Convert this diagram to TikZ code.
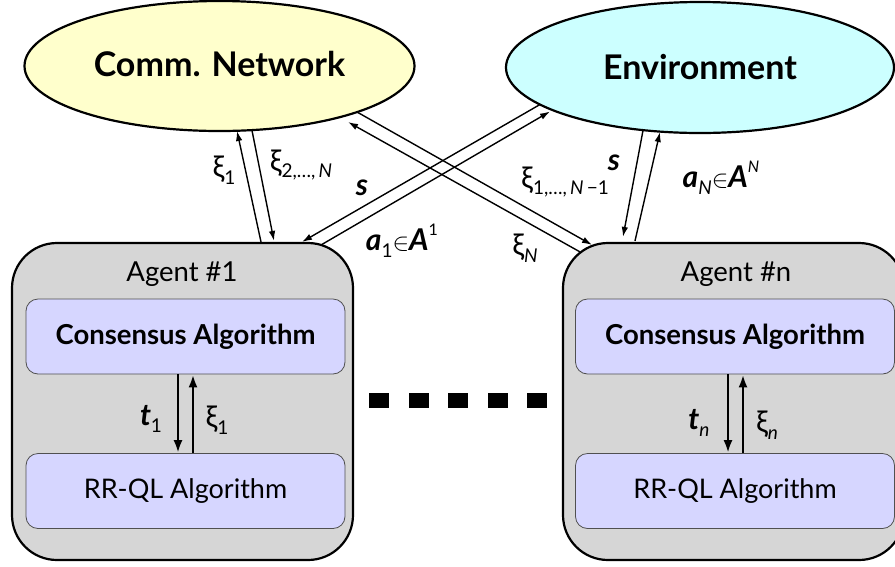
\documentclass[tikz,border=0pt]{standalone}
\usepackage{fontspec}
\setmainfont{Lato}
\usetikzlibrary{shapes.geometric,arrows.meta,calc}

\definecolor{netfill}{HTML}{FFFFCC}
\definecolor{envfill}{HTML}{CCFFFF}
\definecolor{agentfill}{HTML}{D6D6D6}
\definecolor{algfill}{HTML}{D6D6FF}
\definecolor{algline}{HTML}{505050}

% label helpers: lowered subscript, raised superscript
\newcommand\lbsub[1]{\raisebox{-0.45ex}{\fontsize{19}{20}\selectfont #1}}
\newcommand\lbsup[1]{\raisebox{1.0ex}{\fontsize{16}{17}\selectfont #1}}
\newcommand\bit[1]{{\bfseries\itshape #1}}

\begin{document}
\begin{tikzpicture}[x=1pt,y=-1pt,
  blob/.style={ellipse, draw, line width=2.2pt, inner sep=0pt,
    font=\fontsize{34}{36}\selectfont\bfseries},
  agentbox/.style={draw, line width=2.2pt, fill=agentfill,
    rounded corners=45pt, minimum width=341pt, minimum height=317pt},
  algbox/.style={draw=algline, line width=0.8pt, fill=algfill,
    rounded corners=12pt, minimum width=319pt, minimum height=75pt,
    font=\fontsize{27}{30}\selectfont},
  consbox/.style={algbox, font=\fontsize{27.5}{30}\selectfont\bfseries},
  title/.style={font=\fontsize{27.5}{30}\selectfont},
  lbl/.style={font=\fontsize{30}{32}\selectfont, inner sep=0pt},
  link/.style={line width=1.4pt, -{Latex[length=10pt,width=6.5pt]}},
  flow/.style={line width=2.8pt, -{Latex[length=13pt,width=9pt]}}
]
\useasboundingbox (0,0) rectangle (895,566);
\clip (0,0) rectangle (895,566);

% top-level entities
\node[blob, fill=netfill, minimum width=390pt, minimum height=130pt]
  (comm) at (219.5,66) {\raisebox{4pt}{Comm. Network}};
\node[blob, fill=envfill, minimum width=388pt, minimum height=131pt]
  (env) at (700,67.5) {Environment};

% agents
\node[agentbox] (ag1) at (182.5,401.5) {};
\node[agentbox] (agn) at (733.5,401.5) {};
\node[title] (ag1t) at (182,274) {Agent \#1};
\node[title] (agnt) at (736,274) {Agent \#n};

\node[consbox] (cons1) at (185.5,336.5) {Consensus Algorithm};
\node[algbox] (rrql1) at (185.5,491) {RR-QL Algorithm};
\node[consbox] (consn) at (735,336.5) {Consensus Algorithm};
\node[algbox] (rrqln) at (735,491) {RR-QL Algorithm};

% exchanges inside each agent
\draw[flow] ($(cons1.south)+(-7.5,0)$) -- ($(rrql1.north)+(-7.5,0)$);
\draw[flow] ($(rrql1.north)+(7.5,0)$) -- ($(cons1.south)+(7.5,0)$);
\draw[flow] ($(consn.south)+(-7,0)$) -- ($(rrqln.north)+(-7,0)$);
\draw[flow] ($(rrqln.north)+(8,0)$) -- ($(consn.south)+(8,0)$);
\node[lbl] (t1) at (151,419) {\bit{t}\lbsub{1}};
\node[lbl] (x1in) at (217,420) {ξ\lbsub{1}};
\node[lbl] (tn) at (699,423) {\bit{t}\lbsub{\itshape n}};
\node[lbl] (xnin) at (767,425) {ξ\lbsub{\itshape n}};

% links between agents, network and environment
\draw[link] ($(ag1.north)+(78.5,0)$) -- ($(comm.center)+(17.5,65)$);
\draw[link] ($(comm.center)+(32.5,64.5)$) -- ($(ag1.north)+(91.5,-1)$);
\draw[link] ($(env.center)+(-160,37)$) -- ($(ag1.north)+(119.5,0)$);
\draw[link] ($(ag1.north)+(139.5,2.5)$) -- ($(env.center)+(-150,44)$);
\draw[link] ($(comm.center)+(137.5,46)$) -- ($(agn.north)+(-141.5,3)$);
\draw[link] ($(agn.north)+(-153.5,10)$) -- ($(comm.center)+(128.5,56)$);
\draw[link] ($(env.center)+(-57,63)$) -- ($(agn.north)+(-110.5,-5)$);
\draw[link] ($(agn.north)+(-98.5,-1)$) -- ($(env.center)+(-40,64.5)$);

\node[lbl] (lx1) at (224,170) {ξ\lbsub{1}};
\node[lbl] (lx2) at (301,165) {ξ\lbsub{2,…,\,\itshape N}};
\node[lbl] (ls1) at (362,188) {\bit{s}};
\node[lbl] (la1) at (402,241) {\bit{a}\lbsub{1}$\in$\bit{A}\lbsup{1}};
\node[lbl] (lxo) at (565,182) {ξ\lbsub{1,…,\,\itshape N\,\upshape−1}};
\node[lbl] (lxn) at (525,248) {ξ\lbsub{\itshape N}};
\node[lbl] (lsn) at (614,163) {\bit{s}};
\node[lbl] (lan) at (721,178) {\bit{a}\lbsub{\itshape N}$\in$\bit{A}\lbsup{\itshape N}};

% ellipsis between the agents
\foreach \i in {0,...,4}
  \fill ({369+39.5*\i},393) rectangle ++(20,15);
\end{tikzpicture}
\end{document}
